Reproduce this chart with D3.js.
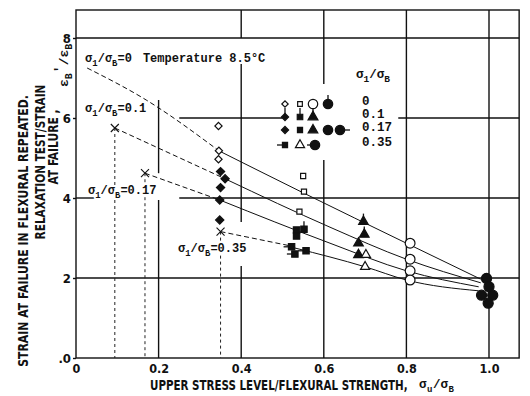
<!DOCTYPE html>
<html>
<head>
<meta charset="utf-8">
<script src="https://cdn.jsdelivr.net/npm/d3@7"></script>
<style>
  body { margin: 0; background: #fff; }
  svg { display: block; }
  .tw { font-family: "Liberation Mono", "DejaVu Sans Mono", monospace; font-weight: bold; }
  .cond { font-family: "DejaVu Sans Condensed", "Liberation Sans Narrow", "DejaVu Sans", sans-serif; font-weight: bold; }
  .halo { paint-order: stroke; stroke: #fff; stroke-width: 4px; stroke-linejoin: round; }
</style>
</head>
<body>
<div class="chart"></div>
<script>
// ---- data ----
const xTicks = [0, 0.2, 0.4, 0.6, 0.8, 1.0];
const xTickLabels = ["0", "0.2", "0.4", "0.6", "0.8", "1.0"];
const yTicks = [0, 2, 4, 6, 8];
const yTickLabels = [".0", "2", "4", "6", "8"];
const ratios = ["0", "0.1", "0.17", "0.35"];

// marker groups [x, y]
const openDiamonds = [[0.345, 5.80], [0.346, 5.18], [0.345, 4.97]];
const filledDiamonds = [[0.350, 4.66], [0.361, 4.48], [0.350, 4.26], [0.348, 3.95], [0.348, 3.45]];
const openSquares = [[0.550, 4.55], [0.552, 4.16], [0.541, 3.66]];
const filledSquares = [[0.534, 3.20], [0.552, 3.22], [0.534, 3.05], [0.522, 2.78], [0.530, 2.60], [0.557, 2.68]];
const filledSquareTicks = ["", "up", "", "left", "left", "left"];
const filledTriangles = [[0.696, 3.41], [0.698, 3.09], [0.684, 2.87], [0.684, 2.58]];
const filledTriangleTicks = ["up", "up", "", ""];
const openTriangles = [[0.702, 2.58], [0.700, 2.28]];
const openCircles = [[0.809, 2.87], [0.809, 2.47], [0.809, 2.18], [0.809, 1.95]];
const filledCircles = [[0.994, 1.99], [1.000, 1.78], [0.982, 1.57], [1.009, 1.57], [0.998, 1.37]];
const crosses = [[0.094, 5.75], [0.167, 4.62], [0.350, 3.16]];

// fitted curves, one per σ1/σB
const dashedFits = [
  [[0.027, 7.25], [0.17, 6.45], [0.346, 5.18]],
  [[0.094, 5.75], [0.361, 4.48]],
  [[0.167, 4.62], [0.348, 3.95]],
  [[0.350, 3.16], [0.530, 2.78]]
];
const solidFits = [
  [[0.346, 5.18], [0.55, 4.13], [0.8, 2.87], [0.98, 1.97]],
  [[0.361, 4.48], [0.615, 3.27], [0.8, 2.47], [0.98, 1.88]],
  [[0.348, 3.95], [0.615, 2.87], [0.8, 2.18], [0.975, 1.78]],
  [[0.530, 2.75], [0.70, 2.28], [0.8, 1.95], [0.975, 1.68]]
];

// grid lines as drawn (with the gaps of the original)
const vGrid = [
  [0.2, [[0, 3.95], [4.62, 6.45]]],
  [0.4, [[0, 2.3], [3.4, 7.35], [8.0, 8.7]]],
  [0.6, [[0, 4.95], [6.8, 8.7]]],
  [0.8, [[0, 8.7]]],
  [1.0, [[0, 8.7]]]
];
const hGrid = [
  [2, [[0, 1.073]]],
  [4, [[0, 0.058], [0.25, 1.073]]],
  [6, [[0.25, 0.5], [0.78, 1.073]]],
  [8, [[0, 1.073]]]
];

// ---- drawing ----
const W = 530, H = 396;
const xMax = 1.073, yMax = 8.7;

const x = d3.scaleLinear().domain([0, 1]).range([76, 489]);
const y = d3.scaleLinear().domain([0, 8]).range([358, 38]);

const svg = d3.select(".chart").append("svg")
  .attr("width", W).attr("height", H);

// grid
const grid = svg.append("g").attr("stroke", "#111").attr("stroke-width", 1.4);
vGrid.forEach(([gx, segs]) => segs.forEach(([a, b]) => {
  grid.append("line").attr("x1", x(gx)).attr("x2", x(gx)).attr("y1", y(a)).attr("y2", y(b));
}));
hGrid.forEach(([gy, segs]) => segs.forEach(([a, b]) => {
  grid.append("line").attr("y1", y(gy)).attr("y2", y(gy)).attr("x1", x(a)).attr("x2", x(b));
}));

// frame
svg.append("rect")
  .attr("x", x(0)).attr("y", y(yMax))
  .attr("width", x(xMax) - x(0)).attr("height", y(0) - y(yMax))
  .attr("fill", "none").attr("stroke", "#111").attr("stroke-width", 1.4);

// axes
const xAxis = d3.axisBottom(x).tickValues(xTicks).tickSize(0).tickPadding(6)
  .tickFormat((d, i) => xTickLabels[i]);
svg.append("g").attr("transform", `translate(0,${y(0)})`).call(xAxis)
  .call(g => g.select(".domain").remove())
  .selectAll("text").attr("class", "cond").style("font-size", "12.5px").attr("fill", "#111");

const yAxis = d3.axisLeft(y).tickValues(yTicks).tickSize(3).tickPadding(2)
  .tickFormat((d, i) => yTickLabels[i]);
svg.append("g").attr("transform", `translate(${x(0)},0)`).call(yAxis)
  .call(g => g.select(".domain").remove())
  .call(g => g.selectAll("line").attr("stroke", "#111").attr("stroke-width", 1.4))
  .selectAll("text").attr("class", "cond").style("font-size", "13px").attr("fill", "#111");

// vertical dotted reference lines below the crosses
svg.append("g").selectAll("line").data(crosses).join("line")
  .attr("x1", d => x(d[0])).attr("x2", d => x(d[0]))
  .attr("y1", d => y(d[1])).attr("y2", y(0))
  .attr("stroke", "#222").attr("stroke-width", 1).attr("stroke-dasharray", "3,3");

// legend background (blanks the grid behind the key)
svg.append("rect")
  .attr("x", x(0.505)).attr("y", y(6.85))
  .attr("width", x(0.78) - x(0.505)).attr("height", y(4.95) - y(6.85))
  .attr("fill", "#fff");

// fitted lines
const line = d3.line().x(d => x(d[0])).y(d => y(d[1])).curve(d3.curveMonotoneX);
svg.append("g").selectAll("path").data(dashedFits).join("path")
  .attr("d", line).attr("fill", "none").attr("stroke", "#111")
  .attr("stroke-width", 1).attr("stroke-dasharray", "5,3");
svg.append("g").selectAll("path").data(solidFits).join("path")
  .attr("d", line).attr("fill", "none").attr("stroke", "#111").attr("stroke-width", 1);

// markers
const sym = (type, size) => d3.symbol().type(type).size(size)();
function drawMarkers(data, type, size, filled, rot, ticks) {
  const g = svg.append("g");
  data.forEach((d, i) => {
    const px = x(d[0]), py = y(d[1]);
    const t = ticks ? ticks[i] : "";
    if (t === "up") g.append("line").attr("x1", px).attr("x2", px).attr("y1", py).attr("y2", py - 8).attr("stroke", "#111").attr("stroke-width", 1.3);
    if (t === "left") g.append("line").attr("x1", px).attr("x2", px - 8).attr("y1", py).attr("y2", py).attr("stroke", "#111").attr("stroke-width", 1.3);
    g.append("path").attr("d", sym(type, size))
      .attr("transform", `translate(${px},${py}) rotate(${rot})`)
      .attr("fill", filled ? "#111" : "#fff").attr("stroke", "#111").attr("stroke-width", 1.2);
  });
}
drawMarkers(openDiamonds, d3.symbolSquare, 26, false, 45);
drawMarkers(filledDiamonds, d3.symbolSquare, 34, true, 45);
drawMarkers(openSquares, d3.symbolSquare, 26, false, 0);
drawMarkers(filledSquares, d3.symbolSquare, 40, true, 0, filledSquareTicks);
drawMarkers(filledTriangles, d3.symbolTriangle, 40, true, 0, filledTriangleTicks);
drawMarkers(openTriangles, d3.symbolTriangle, 36, false, 0);
drawMarkers(openCircles, d3.symbolCircle, 75, false, 0);
drawMarkers(filledCircles, d3.symbolCircle, 80, true, 0);

svg.append("g").selectAll("path").data(crosses).join("path")
  .attr("d", d => { const px = x(d[0]), py = y(d[1]);
    return `M${px - 4},${py - 4}L${px + 4},${py + 4}M${px - 4},${py + 4}L${px + 4},${py - 4}`; })
  .attr("stroke", "#111").attr("stroke-width", 1.1);

// σ1/σB label helper
function sigmaLabel(parent, px, py, suffix, size) {
  const t = parent.append("text").attr("class", "tw halo").attr("x", px).attr("y", py)
    .style("font-size", size + "px").attr("fill", "#111");
  t.append("tspan").text("σ");
  t.append("tspan").attr("dy", 4).style("font-size", (size - 3) + "px").text("1");
  t.append("tspan").attr("dy", -4).text("/σ");
  t.append("tspan").attr("dy", 4).style("font-size", (size - 3) + "px").text("B");
  t.append("tspan").attr("dy", -4).text(suffix);
  return t;
}

// curve annotations
const annot = svg.append("g");
sigmaLabel(annot, x(0.022), y(7.4), "=0", 12);
sigmaLabel(annot, x(0.022), y(6.15), "=" + ratios[1], 12);
sigmaLabel(annot, x(0.029), y(4.1), "=" + ratios[2], 12);
sigmaLabel(annot, x(0.247), y(2.65), "=" + ratios[3], 12);
annot.append("text").attr("class", "tw halo").attr("x", x(0.162)).attr("y", y(7.4))
  .style("font-size", "12px").attr("fill", "#111").text("Temperature 8.5°C");

// legend
const lg = svg.append("g");
const lx0 = 285, lStep = [0, 15, 28, 43, 55];
const rowY = [104, 117, 130, 145];
sigmaLabel(lg, 356, 78, "", 12.5).attr("class", "tw");
ratios.forEach((r, i) => {
  lg.append("text").attr("class", "tw").attr("x", 362).attr("y", rowY[i] + 1)
    .style("font-size", "12.5px").attr("fill", "#111").text(r);
});
const legendItems = [
  { row: 0, col: 0, type: d3.symbolSquare, size: 20, fill: false, rot: 45 },
  { row: 0, col: 1, type: d3.symbolSquare, size: 22, fill: false },
  { row: 0, col: 2, type: d3.symbolCircle, size: 70, fill: false },
  { row: 0, col: 3, type: d3.symbolCircle, size: 70, fill: true, tick: "up" },
  { row: 1, col: 0, type: d3.symbolSquare, size: 26, fill: true, rot: 45, tick: "up" },
  { row: 1, col: 1, type: d3.symbolSquare, size: 30, fill: true, tick: "up" },
  { row: 1, col: 2, type: d3.symbolTriangle, size: 42, fill: true, tick: "up" },
  { row: 2, col: 0, type: d3.symbolSquare, size: 26, fill: true, rot: 45 },
  { row: 2, col: 1, type: d3.symbolSquare, size: 26, fill: true },
  { row: 2, col: 2, type: d3.symbolTriangle, size: 40, fill: true },
  { row: 2, col: 3, type: d3.symbolCircle, size: 70, fill: true },
  { row: 2, col: 4, type: d3.symbolCircle, size: 70, fill: true, tick: "right" },
  { row: 3, col: 0, type: d3.symbolSquare, size: 26, fill: true, tick: "left" },
  { row: 3, col: 1, type: d3.symbolTriangle, size: 36, fill: false },
  { row: 3, col: 2, type: d3.symbolCircle, size: 70, fill: true, tick: "left", dx: 2 }
];
legendItems.forEach(it => {
  const px = lx0 + lStep[it.col] + (it.dx || 0), py = rowY[it.row];
  const ln = (x1, y1, x2, y2) => lg.append("line").attr("x1", x1).attr("y1", y1).attr("x2", x2).attr("y2", y2)
    .attr("stroke", "#111").attr("stroke-width", 1.3);
  if (it.tick === "up") ln(px, py, px, py - 9);
  if (it.tick === "left") ln(px, py, px - 8, py);
  if (it.tick === "right") ln(px, py, px + 10, py);
  lg.append("path").attr("d", sym(it.type, it.size))
    .attr("transform", `translate(${px},${py}) rotate(${it.rot || 0})`)
    .attr("fill", it.fill ? "#111" : "#fff").attr("stroke", "#111").attr("stroke-width", 1.2);
});

// condensed titles: squeeze the natural text width to the measured length
function fitted(px, py, rot, txt, len, anchor) {
  const t = svg.append("text").attr("class", "cond")
    .attr("text-anchor", anchor || "start")
    .style("font-size", "13.5px").attr("fill", "#111").text(txt);
  const sx = len / t.node().getComputedTextLength();
  t.attr("transform", `translate(${px},${py}) rotate(${rot}) scale(${sx},1)`);
  return t;
}

// x-axis title
fitted(150, 390, 0, "UPPER STRESS LEVEL/FLEXURAL STRENGTH,", 258);
const xs = svg.append("text").attr("class", "tw").attr("x", 419).attr("y", 388)
  .style("font-size", "12.5px").attr("fill", "#111");
xs.append("tspan").text("σ");
xs.append("tspan").attr("dy", 4).attr("dx", 0.5).style("font-size", "9px").text("u");
xs.append("tspan").attr("dy", -4).attr("dx", 0.5).text("/σ");
xs.append("tspan").attr("dy", 4).attr("dx", 0.5).style("font-size", "9px").text("B");

// y-axis title (three rotated lines)
fitted(28, 231, -90, "STRAIN AT FAILURE IN  FLEXURAL REPEATED.", 272, "middle");
fitted(45, 162, -90, "RELAXATION TEST/STRAIN", 155, "middle");
fitted(58, 147, -90, "AT FAILURE ,", 75, "middle");
const eps = svg.append("text").attr("class", "tw")
  .attr("transform", "translate(68,87) rotate(-90)")
  .style("font-size", "13px").attr("fill", "#111");
eps.append("tspan").text("ε");
eps.append("tspan").attr("dy", 4).style("font-size", "10px").text("B");
eps.append("tspan").attr("dy", -9).text("'");
eps.append("tspan").attr("dy", 5).text("/ε");
eps.append("tspan").attr("dy", 4).style("font-size", "10px").text("B");
</script>
</body>
</html>
